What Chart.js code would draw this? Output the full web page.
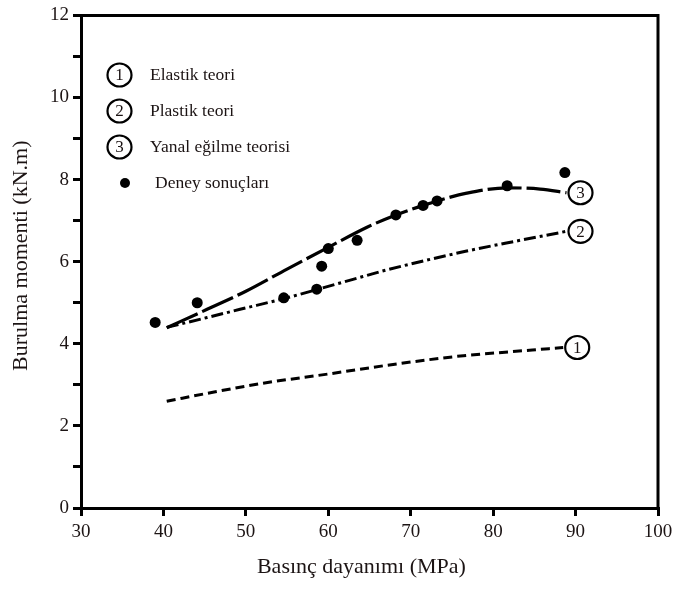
<!DOCTYPE html>
<html><head><meta charset="utf-8">
<script src="https://cdn.jsdelivr.net/npm/chart.js@4/dist/chart.umd.min.js"></script>
<style>html,body{margin:0;padding:0;background:#fff}</style>
</head><body>
<canvas id="c" width="682" height="590"></canvas>
<script>
// ---- data ----
const xTicks = [30, 40, 50, 60, 70, 80, 90, 100];
const yTicks = [0, 2, 4, 6, 8, 10, 12];

const seriesNames = ['Elastik teori', 'Plastik teori', 'Yanal eğilme teorisi', 'Deney sonuçları'];
const seriesNumbers = ['1', '2', '3'];

const elasticX = [40.4, 46.0, 52.1, 60.2, 68.3, 76.4, 82.4, 88.5];
const elasticY = [2.60, 2.82, 3.04, 3.27, 3.51, 3.71, 3.81, 3.91];

const plasticX = [40.4, 45.3, 49.3, 54.6, 58.6, 63.0, 67.1, 72.0, 76.8, 83.0, 88.9];
const plasticY = [4.40, 4.64, 4.84, 5.10, 5.32, 5.57, 5.80, 6.04, 6.26, 6.51, 6.74];

const lateralX = [40.4, 45.3, 50.0, 55.0, 60.0, 64.7, 68.2, 71.5, 73.2, 76.8, 81.7, 85.7, 88.9];
const lateralY = [4.39, 4.84, 5.28, 5.82, 6.35, 6.84, 7.14, 7.37, 7.48, 7.67, 7.80, 7.77, 7.68];

const testX = [39.0, 44.1, 54.6, 58.6, 59.2, 60.0, 63.5, 68.2, 71.5, 73.2, 81.7, 88.7];
const testY = [4.52, 5.00, 5.12, 5.33, 5.89, 6.32, 6.52, 7.14, 7.37, 7.48, 7.85, 8.17];

const xTitle = 'Basınç dayanımı (MPa)';
const yTitle = 'Burulma momenti (kN.m)';

// ---- build ----
const pts = (xs, ys) => xs.map((x, i) => ({x, y: ys[i]}));
const FONT = '"Liberation Serif", "Times New Roman", serif';
const TXT = '#1c1414';

const lineDs = (label, xs, ys, dash, width) => ({
  type: 'line', label, data: pts(xs, ys), showLine: true,
  borderColor: '#000', borderWidth: width, borderDash: dash,
  pointRadius: 0, cubicInterpolationMode: 'monotone', fill: false, borderCapStyle: 'butt'
});

const datasets = [
  lineDs(seriesNames[0], elasticX, elasticY, [9, 5], 3),
  lineDs(seriesNames[1], plasticX, plasticY, [12, 4, 3, 4], 3),
  lineDs(seriesNames[2], lateralX, lateralY, [34, 5], 3.2),
  { type: 'scatter', label: seriesNames[3], data: pts(testX, testY),
    pointRadius: 5.5, pointBackgroundColor: '#000', pointBorderColor: '#000', pointBorderWidth: 0 }
];

function circled(ctx, cx, cy, num) {
  ctx.save();
  ctx.beginPath();
  ctx.ellipse(cx, cy, 12, 11.5, 0, 0, Math.PI * 2);
  ctx.fillStyle = '#fff';
  ctx.fill();
  ctx.lineWidth = 2.2;
  ctx.strokeStyle = '#000';
  ctx.stroke();
  ctx.fillStyle = TXT;
  ctx.font = '17px ' + FONT;
  ctx.textAlign = 'center';
  ctx.textBaseline = 'middle';
  ctx.fillText(num, cx, cy + 1);
  ctx.restore();
}

const decor = {
  id: 'decor',
  afterDraw(chart) {
    const {ctx, chartArea: a, scales: {x, y}} = chart;
    ctx.save();
    // frame top/right
    ctx.strokeStyle = '#000';
    ctx.lineWidth = 3;
    ctx.beginPath();
    ctx.moveTo(a.left - 1.5, a.top);
    ctx.lineTo(a.right, a.top);
    ctx.lineTo(a.right, a.bottom + 1.5);
    ctx.stroke();
    // axis titles
    ctx.fillStyle = TXT;
    ctx.font = '22px ' + FONT;
    ctx.textAlign = 'center';
    ctx.textBaseline = 'middle';
    ctx.fillText(xTitle, a.left + (a.right - a.left) * 0.486, 567);
    ctx.save();
    ctx.translate(21, (a.top + a.bottom) / 2 - 6);
    ctx.rotate(-Math.PI / 2);
    ctx.fillText(yTitle, 0, 0);
    ctx.restore();
    // curve labels
    [0, 1, 2].forEach(i => {
      const d = chart.data.datasets[i].data;
      const last = d[d.length - 1];
      const px = x.getPixelForValue(last.x), py = y.getPixelForValue(last.y);
      circled(ctx, px + 14, py, seriesNumbers[i]);
    });
    // legend
    const rows = [75, 111, 147, 183];
    ctx.textAlign = 'left';
    ctx.textBaseline = 'middle';
    rows.forEach((ry, i) => {
      if (i < 3) {
        circled(ctx, 119.5, ry, seriesNumbers[i]);
        ctx.fillStyle = TXT;
        ctx.font = '17.5px ' + FONT;
        ctx.fillText(chart.data.datasets[i].label, 150, ry);
      } else {
        ctx.beginPath();
        ctx.arc(125, ry, 5, 0, Math.PI * 2);
        ctx.fillStyle = '#000';
        ctx.fill();
        ctx.fillStyle = TXT;
        ctx.font = '17.5px ' + FONT;
        ctx.fillText(chart.data.datasets[i].label, 155, ry);
      }
    });
    ctx.restore();
  }
};

new Chart(document.getElementById('c'), {
  type: 'scatter',
  data: { datasets },
  options: {
    responsive: false, animation: false, devicePixelRatio: 1,
    layout: { padding: { left: 0, top: 13, right: 24, bottom: 0 } },
    plugins: { legend: { display: false }, tooltip: { enabled: false } },
    scales: {
      x: {
        type: 'linear', min: xTicks[0], max: xTicks[xTicks.length - 1],
        afterBuildTicks(s) { s.ticks = xTicks.map(v => ({value: v})); },
        ticks: { color: TXT, font: { family: FONT, size: 19 }, padding: 5, maxRotation: 0 },
        grid: { drawOnChartArea: false, drawTicks: true, tickLength: 8, lineWidth: 3, color: '#000' },
        border: { display: true, width: 3, color: '#000' },
        afterFit(s) { s.height = 82; }
      },
      y: {
        type: 'linear', min: yTicks[0], max: yTicks[yTicks.length - 1],
        ticks: { stepSize: 1, color: TXT, font: { family: FONT, size: 19 }, padding: 4,
          callback: v => (yTicks.includes(v) ? String(v) : '') },
        grid: { drawOnChartArea: false, drawTicks: true, tickLength: 8, lineWidth: 3, color: '#000' },
        border: { display: true, width: 3, color: '#000' },
        afterFit(s) { s.width = 81; }
      }
    }
  },
  plugins: [decor]
});
</script>
</body></html>
